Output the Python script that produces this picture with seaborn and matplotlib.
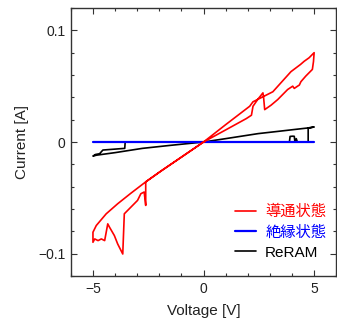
import matplotlib
matplotlib.use("Agg")
import matplotlib.pyplot as plt
from matplotlib.ticker import MultipleLocator, FixedLocator, FixedFormatter
import seaborn as sns

# conductive state (導通状態): sweep 0 -> 5 -> 0 -> -5 -> 0
red_v = [0, 1.0, 1.94, 2.17, 2.24, 2.45, 2.69, 2.72, 2.77, 3.06, 3.36, 3.81, 4.04, 4.11,
         4.26, 4.34, 4.41, 4.63, 4.78, 4.93, 4.98, 5.01,
         4.78, 4.56, 4.39, 3.96, 3.14, 2.24, 2.09, 1.0, 0,
         -1.0, -1.87, -2.62, -3.3, -3.89, -4.41, -4.86, -5.01, -5.01,
         -4.93, -4.78, -4.63, -4.48, -4.41, -4.34, -4.26, -4.04, -3.89, -3.66, -3.59,
         -3.29, -2.99, -2.84, -2.69, -2.62, -2.62, -2.0, -1.0, 0]
red_i = [0, 0.0108, 0.021, 0.024, 0.032, 0.038, 0.044, 0.040, 0.029, 0.033, 0.038, 0.047, 0.050, 0.048,
         0.050, 0.051, 0.054, 0.059, 0.062, 0.065, 0.072, 0.080,
         0.0754, 0.0723, 0.0694, 0.063, 0.045, 0.036, 0.032, 0.0155, 0,
         -0.0135, -0.0252, -0.0357, -0.046, -0.0553, -0.0643, -0.0748, -0.0808, -0.0898,
         -0.0868, -0.0883, -0.0868, -0.0883, -0.0808, -0.0733, -0.0763, -0.0838, -0.0913, -0.1003, -0.0643,
         -0.0583, -0.0523, -0.0463, -0.0448, -0.0568, -0.0357, -0.027, -0.0135, 0]

# insulating state (絶縁状態)
blue_v = [-5.0, -2.5, 0.0, 2.5, 5.0]
blue_i = [0.0, 0.0, 0.0, 0.0, 0.0]

# ReRAM
blk_v = [0, 1.0, 2.47, 3.5, 4.74, 4.86, 5.01, 4.74, 4.74, 4.25, 4.2, 4.17, 4.14, 4.11, 4.04,
         3.92, 3.89, 2.0, 0, -2.0, -3.55, -3.57, -4.56, -4.71, -4.9, -5.01, -4.85,
         -4.0, -2.77, -1.5, 0]
blk_i = [0, 0.003, 0.0075, 0.0098, 0.0126, 0.0128, 0.0135, 0.0126, 0.0, 0.0, 0.003, 0.0, 0.0, 0.0051, 0.0052,
         0.005, 0.0, 0.0, 0.0, 0.0, 0.0, -0.0057, -0.0072, -0.0105, -0.0112, -0.0126, -0.0118,
         -0.0095, -0.0057, -0.003, 0]

labels = ["導通状態", "絶縁状態", "ReRAM"]
colors = ["#ff0000", "#0000ff", "#000000"]
ytick_vals = [-0.1, 0.0, 0.1]
ytick_text = ["\u22120.1", "0", "0.1"]

sns.set_theme(style="ticks")
plt.rcParams["font.family"] = ["Liberation Sans", "Noto Sans CJK JP"]
plt.rcParams["font.size"] = 10

fig = plt.figure(figsize=(3.37, 3.2), dpi=100)
ax = fig.add_axes([0.211, 0.1375, 0.786, 0.8375])

sns.lineplot(x=red_v, y=red_i, sort=False, estimator=None, color=colors[0],
             linewidth=1.2, label=labels[0], ax=ax, zorder=3)
sns.lineplot(x=blue_v, y=blue_i, sort=False, estimator=None, color=colors[1],
             linewidth=1.6, label=labels[1], ax=ax, zorder=2)
sns.lineplot(x=blk_v, y=blk_i, sort=False, estimator=None, color=colors[2],
             linewidth=1.2, label=labels[2], ax=ax, zorder=1)

ax.set_xlim(-6, 6)
ax.set_ylim(-0.12, 0.12)
ax.xaxis.set_major_locator(MultipleLocator(5))
ax.xaxis.set_minor_locator(MultipleLocator(1))
ax.yaxis.set_major_locator(FixedLocator(ytick_vals))
ax.yaxis.set_major_formatter(FixedFormatter(ytick_text))
ax.yaxis.set_minor_locator(MultipleLocator(0.02))

ax.tick_params(which="both", direction="in", top=True, right=True,
               colors="#333333", labelcolor="#222222", labelsize=10, width=0.8)
ax.tick_params(which="major", length=4, pad=4)
ax.tick_params(which="minor", length=2.5)
for s in ax.spines.values():
    s.set_color("#333333")
    s.set_linewidth(1.0)

ax.set_xlabel("Voltage [V]", fontsize=11, color="#222222", labelpad=6)
ax.set_ylabel("Current [A]", fontsize=11, color="#222222", labelpad=7)

leg = ax.legend(loc="lower right", bbox_to_anchor=(1.015, 0.01), frameon=False,
                handlelength=1.4, handletextpad=0.6, labelspacing=0.4,
                labelcolor="linecolor", fontsize=11)

fig.savefig("out.png", dpi=100)
